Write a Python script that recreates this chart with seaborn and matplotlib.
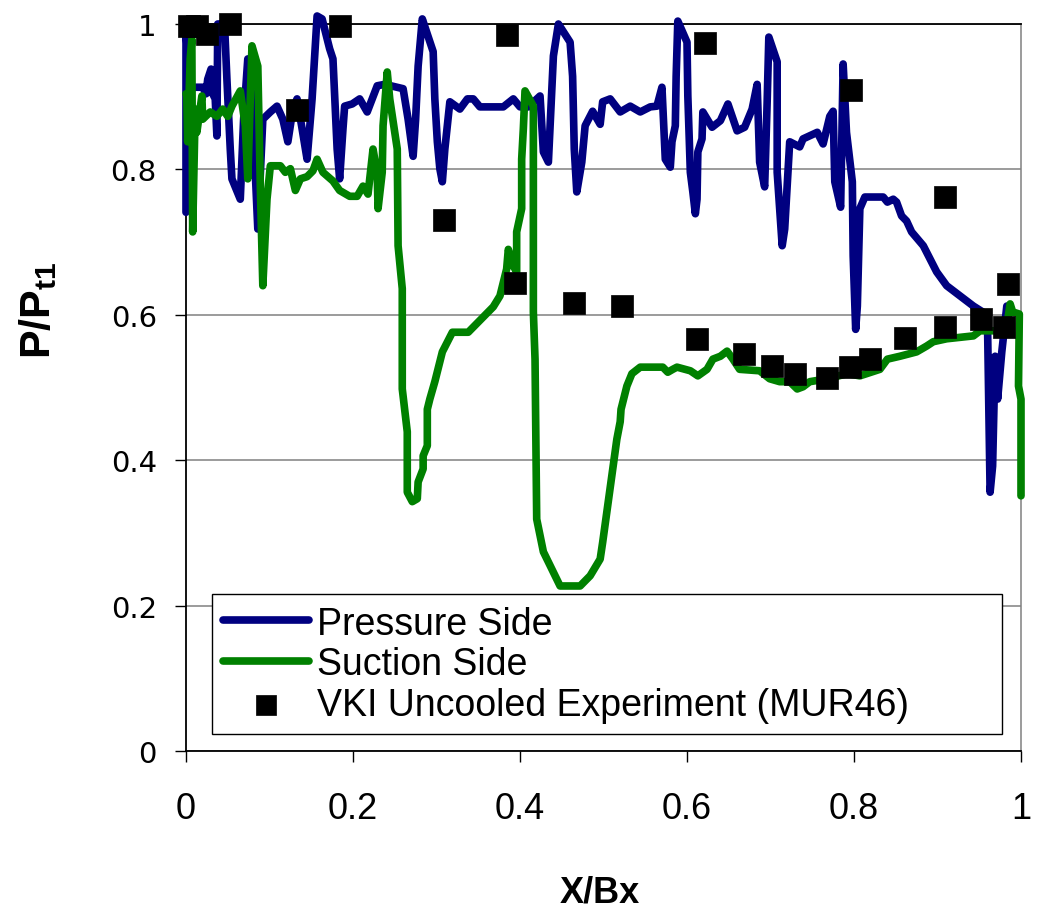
import numpy as np
import pandas as pd
import matplotlib
matplotlib.use("Agg")
import matplotlib.pyplot as plt
import seaborn as sns

# ---------------- data ----------------
ps_x = [0.000, 0.000, 0.002, 0.004, 0.020, 0.024, 0.026, 0.030, 0.032, 0.035, 0.037, 0.038, 0.042, 0.046,
        0.049, 0.053, 0.055, 0.065, 0.069, 0.074, 0.079, 0.086, 0.092, 0.101, 0.109, 0.116, 0.122, 0.128,
        0.133, 0.139, 0.145, 0.151, 0.157, 0.163, 0.172, 0.176, 0.181, 0.184, 0.188, 0.190, 0.199, 0.208,
        0.217, 0.223, 0.229, 0.238, 0.260, 0.266, 0.272, 0.275, 0.278, 0.283, 0.287, 0.296, 0.298, 0.301,
        0.304, 0.307, 0.310, 0.316, 0.328, 0.337, 0.344, 0.352, 0.360, 0.380, 0.392, 0.400, 0.410, 0.424,
        0.428, 0.434, 0.440, 0.446, 0.460, 0.463, 0.465, 0.468, 0.474, 0.478, 0.487, 0.496, 0.499, 0.508,
        0.520, 0.532, 0.544, 0.556, 0.564, 0.570, 0.574, 0.580, 0.582, 0.586, 0.587, 0.589, 0.600, 0.601,
        0.604, 0.607, 0.610, 0.612, 0.613, 0.618, 0.619, 0.630, 0.640, 0.649, 0.660, 0.669, 0.678, 0.684,
        0.687, 0.693, 0.696, 0.698, 0.708, 0.708, 0.714, 0.717, 0.723, 0.735, 0.739, 0.756, 0.763, 0.771,
        0.775, 0.777, 0.784, 0.787, 0.791, 0.798, 0.799, 0.802, 0.804, 0.807, 0.813, 0.835, 0.840, 0.847,
        0.851, 0.857, 0.863, 0.869, 0.883, 0.899, 0.911, 0.927, 0.943, 0.954, 0.960, 0.963, 0.966, 0.969,
        0.972, 0.977, 0.983]
ps_y = [0.741, 0.993, 0.952, 0.913, 0.913, 0.904, 0.924, 0.938, 0.904, 0.897, 0.846, 1.000, 1.000, 1.003,
        0.924, 0.828, 0.787, 0.759, 0.869, 0.952, 0.897, 0.718, 0.869, 0.879, 0.887, 0.869, 0.838, 0.883,
        0.897, 0.856, 0.814, 0.897, 1.011, 1.007, 0.966, 0.952, 0.828, 0.787, 0.856, 0.887, 0.890, 0.897,
        0.879, 0.897, 0.915, 0.917, 0.911, 0.869, 0.818, 0.869, 0.942, 1.007, 0.993, 0.962, 0.897, 0.838,
        0.801, 0.783, 0.828, 0.893, 0.883, 0.897, 0.897, 0.886, 0.886, 0.886, 0.897, 0.886, 0.886, 0.901,
        0.824, 0.810, 0.956, 1.000, 0.975, 0.928, 0.828, 0.769, 0.810, 0.860, 0.880, 0.862, 0.893, 0.897,
        0.879, 0.887, 0.879, 0.886, 0.887, 0.913, 0.814, 0.803, 0.838, 0.860, 0.928, 1.004, 0.975, 0.901,
        0.796, 0.769, 0.739, 0.759, 0.824, 0.842, 0.879, 0.858, 0.867, 0.890, 0.853, 0.858, 0.883, 0.917,
        0.810, 0.776, 0.893, 0.982, 0.948, 0.796, 0.695, 0.718, 0.838, 0.831, 0.842, 0.851, 0.835, 0.873,
        0.880, 0.783, 0.748, 0.945, 0.851, 0.783, 0.681, 0.580, 0.612, 0.746, 0.762, 0.762, 0.755, 0.759,
        0.755, 0.736, 0.729, 0.714, 0.695, 0.659, 0.640, 0.626, 0.612, 0.604, 0.580, 0.356, 0.392, 0.543,
        0.484, 0.549, 0.612]

ss_x = [0.000, 0.001, 0.002, 0.005, 0.007, 0.008, 0.011, 0.013, 0.019, 0.020, 0.029, 0.037, 0.044, 0.050,
        0.055, 0.065, 0.071, 0.074, 0.079, 0.086, 0.089, 0.092, 0.097, 0.101, 0.113, 0.119, 0.125, 0.131,
        0.137, 0.145, 0.152, 0.157, 0.164, 0.176, 0.184, 0.196, 0.205, 0.212, 0.218, 0.224, 0.229, 0.230,
        0.235, 0.236, 0.241, 0.244, 0.253, 0.254, 0.259, 0.259, 0.265, 0.265, 0.271, 0.277, 0.278, 0.284,
        0.284, 0.289, 0.289, 0.292, 0.298, 0.307, 0.319, 0.338, 0.368, 0.376, 0.384, 0.386, 0.392, 0.396,
        0.396, 0.402, 0.402, 0.404, 0.406, 0.416, 0.416, 0.416, 0.418, 0.420, 0.428, 0.448, 0.472, 0.484,
        0.496, 0.499, 0.516, 0.520, 0.521, 0.528, 0.534, 0.544, 0.571, 0.577, 0.583, 0.588, 0.604, 0.613,
        0.624, 0.631, 0.640, 0.648, 0.655, 0.663, 0.687, 0.699, 0.711, 0.723, 0.732, 0.739, 0.747, 0.768,
        0.792, 0.807, 0.831, 0.840, 0.855, 0.875, 0.887, 0.895, 0.911, 0.943, 0.951, 0.971, 0.983, 0.987,
        0.990, 0.998, 0.997, 1.000, 1.000]
ss_y = [0.904, 0.901, 0.838, 0.952, 0.979, 0.714, 0.883, 0.851, 0.901, 0.869, 0.879, 0.873, 0.883, 0.873,
        0.887, 0.908, 0.860, 0.787, 0.970, 0.942, 0.777, 0.640, 0.759, 0.805, 0.805, 0.796, 0.801, 0.771,
        0.787, 0.790, 0.798, 0.814, 0.796, 0.784, 0.771, 0.763, 0.763, 0.777, 0.766, 0.828, 0.794, 0.746,
        0.796, 0.860, 0.934, 0.897, 0.828, 0.695, 0.636, 0.498, 0.439, 0.356, 0.343, 0.347, 0.370, 0.388,
        0.406, 0.420, 0.470, 0.484, 0.508, 0.549, 0.576, 0.576, 0.611, 0.626, 0.663, 0.690, 0.667, 0.659,
        0.714, 0.746, 0.814, 0.856, 0.908, 0.887, 0.759, 0.604, 0.539, 0.319, 0.274, 0.227, 0.227, 0.241,
        0.264, 0.287, 0.429, 0.453, 0.470, 0.502, 0.519, 0.528, 0.528, 0.521, 0.525, 0.528, 0.523, 0.516,
        0.525, 0.539, 0.543, 0.550, 0.539, 0.525, 0.523, 0.512, 0.508, 0.508, 0.498, 0.501, 0.508, 0.512,
        0.519, 0.516, 0.525, 0.539, 0.543, 0.549, 0.557, 0.563, 0.567, 0.571, 0.578, 0.578, 0.585, 0.615,
        0.604, 0.601, 0.502, 0.484, 0.351]

exp_x = [0.004, 0.013, 0.025, 0.053, 0.133, 0.184, 0.309, 0.384, 0.394, 0.465, 0.522, 0.612, 0.622,
         0.668, 0.702, 0.729, 0.768, 0.795, 0.796, 0.819, 0.861, 0.909, 0.909, 0.952, 0.980, 0.985]
exp_y = [0.997, 0.997, 0.986, 1.000, 0.882, 0.997, 0.730, 0.985, 0.644, 0.616, 0.612, 0.567, 0.974,
         0.546, 0.530, 0.519, 0.513, 0.528, 0.909, 0.539, 0.568, 0.583, 0.762, 0.594, 0.583, 0.642]

x_ticks = [0, 0.2, 0.4, 0.6, 0.8, 1]
x_ticklabels = ["0", "0.2", "0.4", "0.6", "0.8", "1"]
y_ticks = [0, 0.2, 0.4, 0.6, 0.8, 1]
y_ticklabels = ["0", "0.2", "0.4", "0.6", "0.8", "1"]

labels = ["Pressure Side", "Suction Side", "VKI Uncooled Experiment (MUR46)"]

# ---------------- style ----------------
sns.set_style("white")
plt.rcParams["font.family"] = ["Liberation Sans", "DejaVu Sans"]
plt.rcParams["text.color"] = "black"
plt.rcParams["axes.labelcolor"] = "black"
plt.rcParams["xtick.color"] = "black"
plt.rcParams["ytick.color"] = "black"
plt.rcParams["mathtext.fontset"] = "custom"
plt.rcParams["mathtext.rm"] = "Liberation Sans"
plt.rcParams["mathtext.bf"] = "Liberation Sans:bold"

df_ps = pd.DataFrame({"x": ps_x, "y": ps_y})
df_ss = pd.DataFrame({"x": ss_x, "y": ss_y})
df_ex = pd.DataFrame({"x": exp_x, "y": exp_y})

fig = plt.figure(figsize=(10.37, 9.12), dpi=100)
ax = fig.add_axes([186 / 1037, 1 - 752 / 912, 835 / 1037, 727 / 912])

sns.lineplot(data=df_ps, x="x", y="y", sort=False, estimator=None, color="#000080",
             linewidth=5.5, label=labels[0], ax=ax, clip_on=False, zorder=3)
sns.lineplot(data=df_ss, x="x", y="y", sort=False, estimator=None, color="#008000",
             linewidth=5.5, label=labels[1], ax=ax, clip_on=False, zorder=4)
sns.scatterplot(data=df_ex, x="x", y="y", marker="s", s=16.5 ** 2, color="black",
                edgecolor="black", linewidth=0.5, label=labels[2], ax=ax, clip_on=False, zorder=5)

ax.set_xlim(0, 1)
ax.set_ylim(0, 1)
ax.set_xticks(x_ticks)
ax.set_xticklabels(x_ticklabels)
ax.set_yticks(y_ticks)
ax.set_yticklabels(y_ticklabels)

ax.tick_params(axis="x", direction="out", length=8, width=1, colors="black", pad=21, bottom=True)
ax.tick_params(axis="y", direction="out", length=8, width=1, colors="black", pad=13, left=True)

for t in ax.get_xticklabels():
    t.set_fontfamily(["Liberation Sans"])
    t.set_fontsize(26)
    t.set_color("black")
for t in ax.get_yticklabels():
    t.set_fontfamily(["DejaVu Sans"])
    t.set_fontsize(21)
    t.set_color("black")

ax.set_axisbelow(True)
ax.yaxis.grid(True, color="#808080", linewidth=1.1)
ax.xaxis.grid(False)

for side in ["left", "bottom", "top"]:
    ax.spines[side].set_color("black")
    ax.spines[side].set_linewidth(1.3)
ax.spines["right"].set_color("#808080")
ax.spines["right"].set_linewidth(1.1)

ax.set_xlabel("X/Bx", fontweight="bold", fontsize=26, color="black")
ax.xaxis.set_label_coords(0.496, -0.2065)
ax.xaxis.label.set_va("baseline")
ax.set_ylabel(r"$\mathbf{P/P_{t1}}$", fontsize=31, color="black")
ax.yaxis.set_label_coords(-0.177, 0.608)
ax.yaxis.label.set_va("center")

leg = ax.legend(loc="upper left", bbox_to_anchor=(0.031, 0.0206, 0.946, 0.195), mode="expand",
                frameon=True, fancybox=False, edgecolor="black", framealpha=1, fontsize=27,
                handlelength=2.3, handletextpad=0.2, borderpad=0.3, labelspacing=0.12,
                borderaxespad=0, markerscale=0.85)
leg.get_frame().set_linewidth(1.0)
leg.set_zorder(10)
for t in leg.get_texts():
    t.set_color("black")

fig.savefig("out.png", dpi=100)
